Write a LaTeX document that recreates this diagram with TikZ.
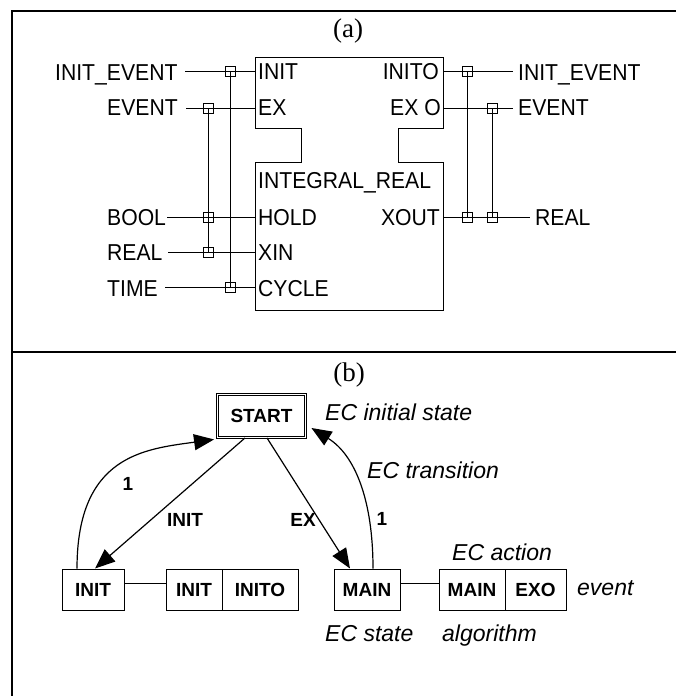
\documentclass[tikz,border=0pt]{standalone}
\usepackage{fontspec}
\setmainfont{Liberation Sans}
\newfontfamily\pinfont[FakeStretch=0.92]{Liberation Sans}
\newfontfamily\capfont{Liberation Serif}
\usetikzlibrary{arrows.meta}

\tikzset{
  frame/.style={line width=2.8pt},
  blk/.style={line width=1pt},
  wire/.style={line width=1pt},
  jn/.style={draw, line width=1pt, minimum size=10pt, inner sep=0pt},
  pin/.style={inner sep=0pt, font=\pinfont\fontsize{23}{26}\selectfont},
  panelcap/.style={inner sep=0pt, font=\capfont\fontsize{27}{30}\selectfont},
  sbox/.style={draw, line width=1pt, minimum height=41pt, inner sep=0pt,
    font=\bfseries\fontsize{19}{22}\selectfont},
  blab/.style={inner sep=0pt, font=\bfseries\fontsize{19}{22}\selectfont},
  ilab/.style={inner sep=0pt, font=\itshape\fontsize{23}{26}\selectfont},
  arr/.style={line width=1.2pt, -{Triangle[length=20pt,width=16pt]}},
}

\begin{document}
\begin{tikzpicture}[x=1pt,y=-1pt]
\useasboundingbox (0,0) rectangle (676,696);

% panel frame
\draw[frame] (12,696) -- (12,11) -- (676,11);
\draw[frame] (12,352) -- (676,352);

% ---------------- (a) function block ----------------
\node[panelcap] (capA) at (348,31) {(a)};

\draw[blk] (255,57) -- (443,57) -- (443,128) -- (398,128) -- (398,162)
  -- (443,162) -- (443,310) -- (255,310) -- (255,162) -- (301,162)
  -- (301,128) -- (255,128) -- cycle;

% pin names inside the block
\node[pin, anchor=base west] (nINIT)  at (258,79)  {INIT};
\node[pin, anchor=base west] (nEX)    at (258,115) {EX};
\node[pin, anchor=base west] (nTYPE)  at (258,188) {INTEGRAL\_REAL};
\node[pin, anchor=base west] (nHOLD)  at (258,225) {HOLD};
\node[pin, anchor=base west] (nXIN)   at (258,260) {XIN};
\node[pin, anchor=base west] (nCYC)   at (258,296) {CYCLE};
\node[pin, anchor=base east] (nINITO) at (439,79)  {INITO};
\node[pin, anchor=base east] (nEXO)   at (441,115) {EX O};
\node[pin, anchor=base east] (nXOUT)  at (440,225) {XOUT};

% pin points on the block edge
\coordinate (eINIT)  at (255,71);
\coordinate (eEX)    at (255,108);
\coordinate (eHOLD)  at (255,217);
\coordinate (eXIN)   at (255,252);
\coordinate (eCYC)   at (255,287);
\coordinate (eINITO) at (443,71);
\coordinate (eEXO)   at (443,108);
\coordinate (eXOUT)  at (443,217);

% data/event type names
\node[pin, anchor=base west] (tIE)  at (55,80)   {INIT\_EVENT};
\node[pin, anchor=base west] (tEV)  at (107,115) {EVENT};
\node[pin, anchor=base west] (tBO)  at (107,225) {BOOL};
\node[pin, anchor=base west] (tRE)  at (107,260) {REAL};
\node[pin, anchor=base west] (tTI)  at (107,296) {TIME};
\node[pin, anchor=base west] (tIEo) at (518,80)  {INIT\_EVENT};
\node[pin, anchor=base west] (tEVo) at (518,115) {EVENT};
\node[pin, anchor=base west] (tREo) at (535,225) {REAL};

% free wire ends next to the type names
\coordinate (wIE)  at (185,71);
\coordinate (wEV)  at (186,108);
\coordinate (wBO)  at (167,217);
\coordinate (wRE)  at (168,252);
\coordinate (wTI)  at (165,287);
\coordinate (wIEo) at (513,71);
\coordinate (wEVo) at (513,108);
\coordinate (wREo) at (530,217);

\draw[wire] (wIE) -- (eINIT);
\draw[wire] (wEV) -- (eEX);
\draw[wire] (wBO) -- (eHOLD);
\draw[wire] (wRE) -- (eXIN);
\draw[wire] (wTI) -- (eCYC);
\draw[wire] (eINITO) -- (wIEo);
\draw[wire] (eEXO) -- (wEVo);
\draw[wire] (eXOUT) -- (wREo);

% WITH associations
\node[jn] (j1) at (230,71)  {};
\node[jn] (j2) at (208,108) {};
\node[jn] (j3) at (208,217) {};
\node[jn] (j4) at (208,252) {};
\node[jn] (j5) at (230,287) {};
\node[jn] (k1) at (467,71)  {};
\node[jn] (k2) at (492,108) {};
\node[jn] (k3) at (467,217) {};
\node[jn] (k4) at (492,217) {};

\draw[wire] (j1.center) -- (j5.center);
\draw[wire] (j2.center) -- (j4.center);
\draw[wire] (k1.center) -- (k3.center);
\draw[wire] (k2.center) -- (k4.center);

% ---------------- (b) execution control chart ----------------
\node[panelcap] (capB) at (349,375) {(b)};

\node[draw, double, double distance=1.5pt, line width=0.9pt,
  minimum width=88pt, minimum height=43pt, inner sep=0pt,
  font=\bfseries\fontsize{19}{22}\selectfont] (start) at (261.5,416) {START};

\node[sbox, minimum width=62pt] (sInit) at (93,589.5)  {INIT};
\node[sbox, minimum width=56pt] (aInit) at (194,589.5) {INIT};
\node[sbox, minimum width=76pt] (aInitO) at (260,589.5) {INITO};

\node[sbox, minimum width=66pt] (sMain) at (367,589.5) {MAIN};
\node[sbox, minimum width=66pt] (aMain) at (472,589.5) {MAIN};
\node[sbox, minimum width=61pt] (aExo)  at (535.5,589.5) {EXO};

\draw[wire] ([yshift=6.5pt]sInit.east) -- ([yshift=6.5pt]aInit.west);
\draw[wire] ([yshift=6.5pt]sMain.east) -- ([yshift=6.5pt]aMain.west);

% transitions
\draw[arr] ([xshift=-16.5pt]start.south) -- ([xshift=2pt]sInit.north);
\draw[arr] ([xshift=5.5pt]start.south) -- ([xshift=-17pt]sMain.north);
\draw[arr] ([xshift=-16pt]sInit.north) .. controls (77,455) and (145,449)
  .. ([xshift=-3pt,yshift=-1.5pt]start.south west);
\draw[arr] ([xshift=6pt]sMain.north) .. controls (373,500) and (355,455)
  .. ([xshift=5.5pt,yshift=-12pt]start.east);

% transition conditions
\node[blab, anchor=base] (c1) at (128,490) {1};
\node[blab, anchor=base] (cInit) at (185,526.5) {INIT};
\node[blab, anchor=base] (cEx) at (303,526) {EX};
\node[blab, anchor=base] (c2) at (382,525) {1};

% annotations
\node[ilab, anchor=base west] (tInitial) at (325,420) {EC initial state};
\node[ilab, anchor=base west] (tTrans)   at (367,478) {EC transition};
\node[ilab, anchor=base west] (tAction)  at (452,560) {EC action};
\node[ilab, anchor=base west] (tEvent)   at (577,595) {event};
\node[ilab, anchor=base west] (tState)   at (325,641) {EC state};
\node[ilab, anchor=base west] (tAlg)     at (442,641) {algorithm};
\end{tikzpicture}
\end{document}
